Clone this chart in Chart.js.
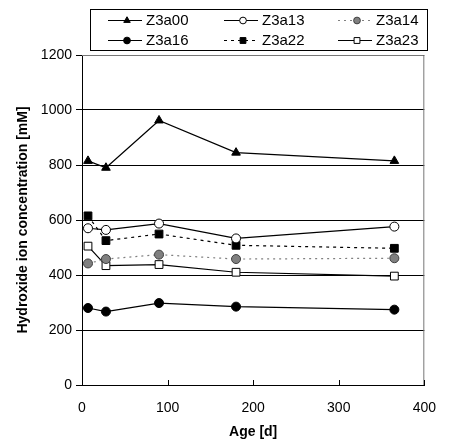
<!DOCTYPE html>
<html>
<head>
<meta charset="utf-8">
<script src="https://cdn.jsdelivr.net/npm/chart.js@4.4.1/dist/chart.umd.min.js"></script>
<style>
  html, body { margin: 0; padding: 0; background: #fff; }
  #wrap { width: 451px; height: 445px; position: relative; }
</style>
</head>
<body>
<div id="wrap"><canvas id="line-chart" width="451" height="445"></canvas></div>
<script>
// age in days
let ages = [7, 28, 90, 180, 365];

let names = ['Z3a00', 'Z3a13', 'Z3a14', 'Z3a16', 'Z3a22', 'Z3a23'];

let z3a00 = [815, 790, 962, 845, 815];
let z3a13 = [570, 564, 587, 533, 576];
let z3a14 = [442, 458, 474, 458, 461];
let z3a16 = [280, 267, 298, 285, 274];
let z3a22 = [615, 525, 549, 508, 497];
let z3a23 = [505, 434, 438, 410, 396];

let yTicks = [0, 200, 400, 600, 800, 1000, 1200];
let xTicks = [0, 100, 200, 300, 400];

let FONT = '"Liberation Sans", Arial, sans-serif';

function pts(vals){
    return ages.map((a, i) => ({ x: a, y: vals[i] }));
}

let styles = [
    { data: z3a00, pointStyle: 'triangle', bg: '#000', border: '#000', line: '#000', dash: [], r: 5 },
    { data: z3a13, pointStyle: 'circle', bg: '#fff', border: '#000', line: '#000', dash: [], r: 4.5 },
    { data: z3a14, pointStyle: 'circle', bg: '#808080', border: '#404040', line: '#808080', dash: [2, 4], r: 4.5 },
    { data: z3a16, pointStyle: 'circle', bg: '#000', border: '#000', line: '#000', dash: [], r: 4.5 },
    { data: z3a22, pointStyle: 'rect', bg: '#000', border: '#000', line: '#000', dash: [3, 4], r: 5.5 },
    { data: z3a23, pointStyle: 'rect', bg: '#fff', border: '#000', line: '#000', dash: [], r: 5.5 }
];

let datasets = styles.map((s, i) => ({
    label: names[i],
    data: pts(s.data),
    borderColor: s.line,
    borderWidth: 1.2,
    borderDash: s.dash,
    pointStyle: s.pointStyle,
    pointRadius: s.r,
    pointBackgroundColor: s.bg,
    pointBorderColor: s.border,
    pointBorderWidth: 1,
    tension: 0,
    fill: false
}));

// frame, inner x ticks and the boxed legend
const decor = {
    id: 'decor',
    beforeDatasetsDraw(chart){
        let ctx = chart.ctx, a = chart.chartArea;
        ctx.save();
        ctx.strokeStyle = '#777';
        ctx.lineWidth = 1;
        ctx.beginPath();
        ctx.moveTo(a.left, a.top + 0.5);
        ctx.lineTo(a.right - 0.5, a.top + 0.5);
        ctx.lineTo(a.right - 0.5, a.bottom);
        ctx.stroke();
        // x ticks pointing up into the plot
        let xs = chart.scales.x;
        ctx.strokeStyle = '#000';
        xTicks.forEach(v => {
            let px = Math.round(xs.getPixelForValue(v)) + 0.5;
            ctx.beginPath();
            ctx.moveTo(px, a.bottom);
            ctx.lineTo(px, a.bottom - 5);
            ctx.stroke();
        });
        ctx.restore();
    },
    afterDraw(chart){
        let ctx = chart.ctx;
        ctx.save();
        ctx.strokeStyle = '#000';
        ctx.lineWidth = 1;
        ctx.fillStyle = '#fff';
        ctx.fillRect(90, 9, 337, 41);
        ctx.strokeRect(90.5, 9.5, 337, 41);
        let colX = [108, 224, 338];
        let rowY = [20, 40];
        chart.data.datasets.forEach((ds, i) => {
            let x0 = colX[i % 3], y0 = rowY[Math.floor(i / 3)];
            ctx.strokeStyle = ds.borderColor;
            ctx.lineWidth = 1.2;
            ctx.setLineDash(ds.borderDash);
            ctx.beginPath();
            ctx.moveTo(x0, y0 + 0.5);
            ctx.lineTo(x0 + 34, y0 + 0.5);
            ctx.stroke();
            ctx.setLineDash([]);
            ctx.fillStyle = ds.pointBackgroundColor;
            ctx.strokeStyle = ds.pointBorderColor;
            ctx.lineWidth = 1;
            Chart.helpers.drawPoint(ctx, { pointStyle: ds.pointStyle, radius: ds.pointRadius * 0.75, rotation: 0, borderWidth: 1 }, x0 + 19, y0 + 0.5);
            ctx.fillStyle = '#000';
            ctx.font = '15px ' + FONT;
            ctx.textBaseline = 'middle';
            ctx.textAlign = 'left';
            ctx.fillText(ds.label, x0 + 38, y0 + 1);
        });
        ctx.restore();
    }
};

let config = {
    type: 'line',
    data: { datasets: datasets },
    options: {
        responsive: false,
        animation: false,
        layout: { padding: { top: 55, right: 16, left: 0, bottom: 0 } },
        plugins: { legend: { display: false }, tooltip: { enabled: false } },
        scales: {
            x: {
                type: 'linear',
                min: 0, max: 400,
                afterBuildTicks: (s) => { s.ticks = xTicks.map(v => ({ value: v })); },
                afterFit: (s) => { s.height = 60; },
                grid: { display: false, drawTicks: false },
                border: { display: true, color: '#000', width: 1 },
                ticks: { color: '#000', font: { family: FONT, size: 14 }, padding: 15, callback: (v) => String(v) },
                title: { display: true, text: 'Age [d]', color: '#000', font: { family: FONT, size: 14, weight: 'bold' }, padding: { top: 4 } }
            },
            y: {
                min: 0, max: 1200,
                afterBuildTicks: (s) => { s.ticks = yTicks.map(v => ({ value: v })); },
                afterFit: (s) => { s.width = 82; },
                grid: { color: '#000', lineWidth: 1, tickLength: 6, drawTicks: true },
                border: { display: true, color: '#000', width: 1 },
                ticks: { color: '#000', font: { family: FONT, size: 14 }, padding: 4, callback: (v) => String(v) },
                title: { display: true, text: 'Hydroxide ion concentration [mM]', color: '#000', font: { family: FONT, size: 14, weight: 'bold' }, padding: { top: 15, bottom: 0 } }
            }
        }
    },
    plugins: [decor]
};

new Chart(document.getElementById('line-chart'), config);
</script>
</body>
</html>
